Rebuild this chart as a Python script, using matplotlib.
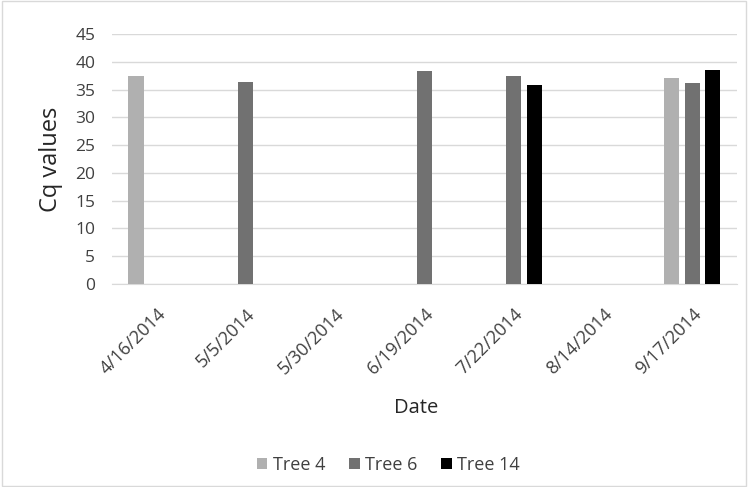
import matplotlib.pyplot as plt
import numpy as np

dates = ['4/16/2014', '5/5/2014', '5/30/2014', '6/19/2014', '7/22/2014', '8/14/2014', '9/17/2014']
tree4 = [37.4, 0, 0, 0, 0, 0, 37.1]
tree6 = [0, 36.3, 0, 38.3, 37.4, 0, 36.2]
tree14 = [0, 0, 0, 0, 35.9, 0, 38.6]

plt.rcParams['font.family'] = ['Open Sans', 'DejaVu Sans']

fig = plt.figure(figsize=(7.48, 4.87), dpi=100)
fig.patches.append(plt.Rectangle((0.003, 0.003), 0.994, 0.994, transform=fig.transFigure,
                                 fill=False, edgecolor='#d9d9d9', linewidth=1))
ax = fig.add_axes([0.1497, 0.4168, 0.8356, 0.5134])

x = np.arange(len(dates))
w = 0.17
off = 0.23
ax.bar(x - off, tree4, w, color='#b0b0b0', label='Tree 4', zorder=3)
ax.bar(x, tree6, w, color='#717171', label='Tree 6', zorder=3)
ax.bar(x + off, tree14, w, color='#000000', label='Tree 14', zorder=3)

ax.set_ylim(0, 45)
ax.set_yticks(range(0, 46, 5))
ax.set_xlim(-0.5, len(dates) - 0.5)
ax.set_xticks(x)
ax.set_xticklabels(dates, rotation=45, ha='right', rotation_mode='anchor')
ax.tick_params(length=0, colors='#404040')
ax.tick_params(axis='y', labelsize=12.5, pad=12)
ax.tick_params(axis='x', labelsize=13, pad=15)
ax.grid(axis='y', color='#d9d9d9', linewidth=1, zorder=0)
for s in ['top', 'right', 'left']:
    ax.spines[s].set_visible(False)
ax.spines['bottom'].set_color('#d9d9d9')

ax.set_ylabel('Cq values', fontsize=17, color='#262626', va='center')
ax.yaxis.set_label_coords(-0.098, 0.5)
ax.set_xlabel('Date', fontsize=14.5, color='#262626', va='center')
ax.xaxis.set_label_coords(0.486, -0.496)

ax.legend(loc='center', bbox_to_anchor=(0.442, -0.724), ncol=3, frameon=False,
          fontsize=13, handlelength=0.6, handleheight=0.6, handletextpad=0.3,
          columnspacing=1.3, labelcolor='#404040')

fig.savefig('out.png', dpi=100)
